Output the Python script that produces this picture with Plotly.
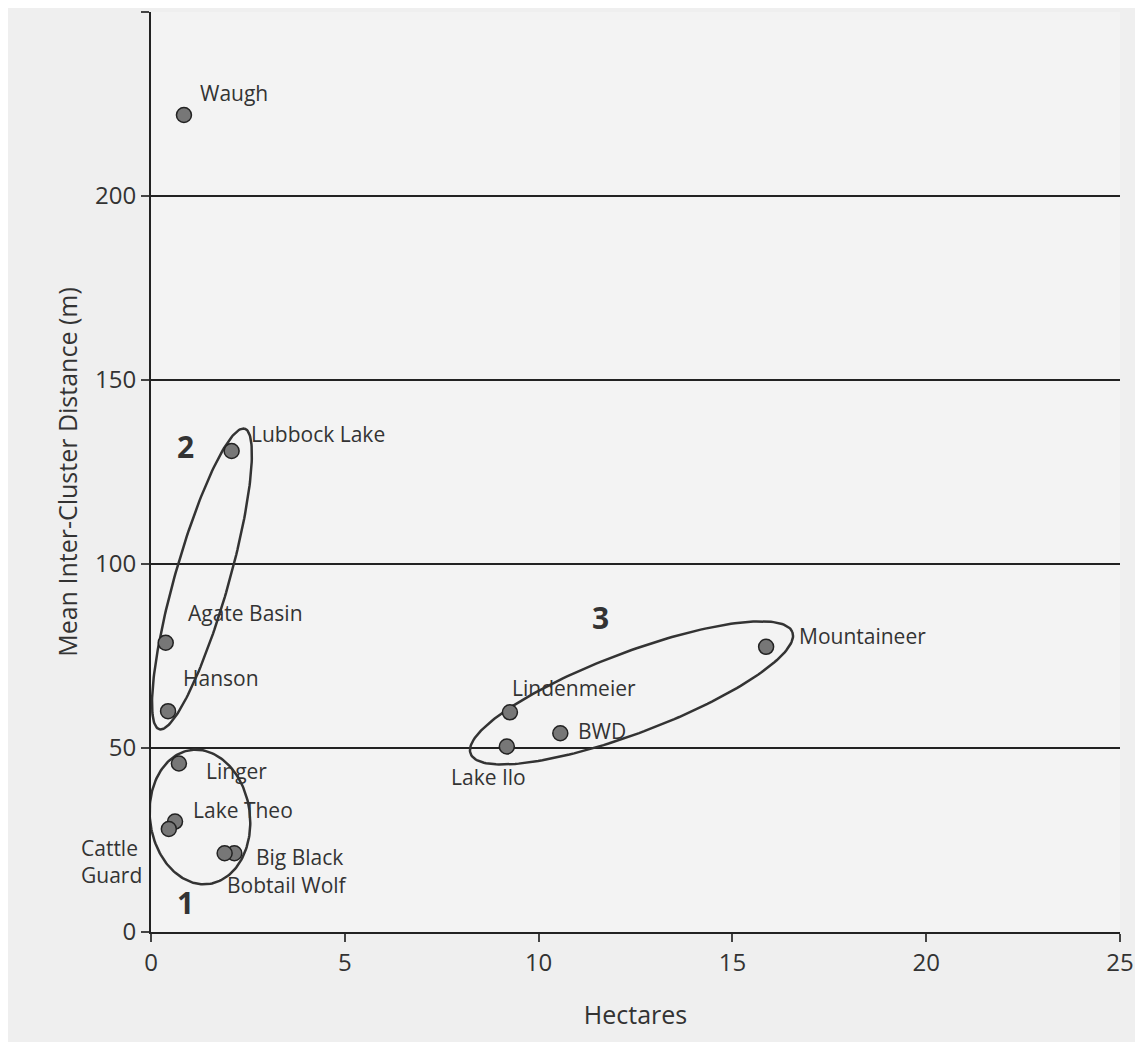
import numpy as np
import plotly.graph_objects as go

names = ["Waugh","Lubbock Lake","Agate Basin","Hanson","Linger","Lake Theo","Cattle Guard",
         "Big Black","Bobtail Wolf","Lindenmeier","BWD","Lake Ilo","Mountaineer"]
hectares = [0.85,2.08,0.38,0.44,0.72,0.62,0.46,2.15,1.9,9.26,10.56,9.18,15.87]
distance = [222,130.7,78.6,60,45.8,30,28,21.4,21.4,59.7,54,50.4,77.5]
label_text = ["Waugh","Lubbock Lake","Agate Basin","Hanson","Linger","Lake Theo","Cattle<br>Guard",
              "Big Black","Bobtail Wolf","Lindenmeier","BWD","Lake Ilo","Mountaineer"]
label_dx = [14,17,20,13,25,16,-90,20,0,0,16,-58,31]
label_dy = [-22,-17,-30,-33,8,-12,33,4,32,-24,-2,30,-11]
cluster_names = ["1","2","3"]
cluster_x = [0.9,0.9,11.6]
cluster_y = [8,132,85.5]

W, H = 1143, 1042
# reference plot-area geometry (pixels) used to draw the ellipses
RL, RR, RT, RB = 150, 1120, 20, 932
pxx = (RR-RL)/25.0
pxy = (RB-RT)/250.0

def ellipse(cx, cy, a, b, ang):
    t = np.linspace(0, 2*np.pi, 200)
    px = a*np.cos(t); py = b*np.sin(t)
    r = np.deg2rad(ang)
    X = cx + (px*np.cos(r) - py*np.sin(r))
    Y = cy + (px*np.sin(r) + py*np.cos(r))
    return (X-RL)/pxx, (RB-Y)/pxy

fig = go.Figure()
ells = [(199,818,50,67,-8),(201,582,155,27,-74),(631,695,172,40,-20.5)]
for e in ells:
    ex, ey = ellipse(*e)
    fig.add_trace(go.Scatter(x=ex, y=ey, mode="lines", line=dict(color="#333", width=2.5),
                             hoverinfo="skip", showlegend=False))
fig.add_trace(go.Scatter(x=hectares, y=distance, mode="markers",
    marker=dict(size=15, color="#777", line=dict(color="#222", width=1.5)), showlegend=False))
for n, x, y, dx, dy in zip(label_text, hectares, distance, label_dx, label_dy):
    fig.add_annotation(x=x, y=y, text=n, showarrow=False, xanchor="left", yanchor="middle",
                       xshift=dx, yshift=-dy, font=dict(size=21, color="#333"), align="left")
for n, x, y in zip(cluster_names, cluster_x, cluster_y):
    fig.add_annotation(x=x, y=y, text="<b>"+n+"</b>", showarrow=False,
                       font=dict(size=30, color="#333"))

fig.update_layout(width=W, height=H, margin=dict(l=143, r=31, t=4, b=118),
    paper_bgcolor="#efefef", plot_bgcolor="#f3f3f3",
    font=dict(family="Open Sans, Arial", color="#333"))
fig.update_xaxes(range=[0,25], dtick=5, showgrid=False, showline=True, linecolor="#222",
    linewidth=2, ticks="outside", ticklen=8, tickwidth=2, tickfont=dict(size=24),
    title=dict(text="Hectares", font=dict(size=25), standoff=30), zeroline=False)
fig.update_yaxes(range=[0,250], dtick=50, showgrid=True, gridcolor="#222", gridwidth=2,
    showline=True, linecolor="#222", linewidth=2, ticks="outside", ticklen=8, tickwidth=2,
    tickfont=dict(size=24), zeroline=False,
    title=dict(text="Mean Inter-Cluster Distance (m)", font=dict(size=25), standoff=10))
fig.write_html("out.html")
